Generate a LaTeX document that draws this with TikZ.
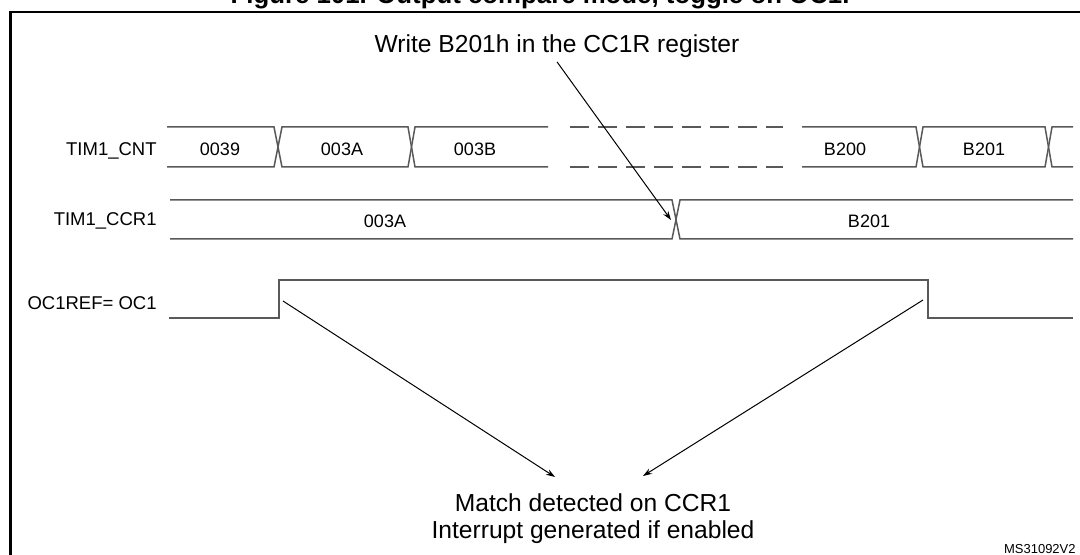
\documentclass[tikz,border=0pt]{standalone}
\usepackage{fontspec}
\setmainfont{Liberation Sans}
\usetikzlibrary{arrows.meta}

\tikzset{
  wave/.style={line width=0.75pt, color=black!65},
  gapline/.style={wave, dash pattern=on 9.3pt off 4.7pt},
  pointer/.style={line width=0.5pt, -{Stealth[length=4.5pt,width=3pt]}},
  signame/.style={font=\fontsize{9.25}{11}\selectfont, anchor=base east, inner sep=0pt},
  busval/.style={font=\fontsize{9}{11}\selectfont, anchor=base, inner sep=0pt},
  note/.style={font=\fontsize{12.3}{13.5}\selectfont, align=center, inner sep=1pt},
}

\begin{document}
\begin{tikzpicture}[x=0.5pt, y=-0.5pt]
	%%%%% FRAME %%%%%
	\useasboundingbox (0,0) rectangle (1080,555);
	\node[font=\bfseries\fontsize{12.9}{15}\selectfont, anchor=base] (caption) at (540,4) {Figure 101. Output compare mode, toggle on OC1.};
	\draw[line width=1.1pt] (10.5,12) rectangle (1100,570);
	
	%%%%% SIGNAL NAMES %%%%%
	\node[signame] (cnt) at (157,155.5) {TIM1\_CNT};
	\node[signame] (ccr) at (157,225.5) {TIM1\_CCR1};
	\node[signame] (oc) at (157,309.5) {OC1REF= OC1};
	
	%%%%% TIM1_CNT %%%%%
	\draw[wave] (167,127) -- (274,127) -- (282,167) -- (408,167) -- (415,127) -- (548,127);
	\draw[wave] (167,167) -- (274,167) -- (282,127) -- (408,127) -- (415,167) -- (548,167);
	\draw[gapline] (570,127) -- (783,127) (570,167) -- (783,167);
	\draw[wave] (802,127) -- (916,127) -- (923,167) -- (1045,167) -- (1052,127) -- (1073,127);
	\draw[wave] (802,167) -- (916,167) -- (923,127) -- (1045,127) -- (1052,167) -- (1073,167);
	
	\node[busval] (c39) at (220,156) {0039};
	\node[busval] (c3a) at (342,156) {003A};
	\node[busval] (c3b) at (475,156) {003B};
	\node[busval] (c200) at (845,156) {B200};
	\node[busval] (c201) at (984,156) {B201};
	
	%%%%% TIM1_CCR1 %%%%%
	\draw[wave] (170,200) -- (672,200) -- (680,239) -- (1073,239);
	\draw[wave] (170,239) -- (672,239) -- (680,200) -- (1073,200);
	\coordinate (ccrx) at (671,220);
	
	\node[busval] (r3a) at (385,228) {003A};
	\node[busval] (r201) at (869,228) {B201};
	
	%%%%% OC1REF %%%%%
	\draw[wave] (169,318) -- (279,318) -- (279,280) -- (928,280) -- (928,318) -- (1073,318);
	\coordinate (rise) at (283,301);
	\coordinate (fall) at (923,300);
	
	%%%%% NOTES %%%%%
	\node[note] (write) at (557,46) {Write B201h in the CC1R register};
	\draw[pointer] ([yshift=-1pt]write.south) -- (ccrx);
	
	\node[note] (match) at (593,519) {Match detected on CCR1\\Interrupt generated if enabled};
	\coordinate (m1) at (555,477);
	\coordinate (m2) at (643,476);
	\draw[pointer] (rise) -- (m1);
	\draw[pointer] (fall) -- (m2);
	
	\node[font=\fontsize{6.5}{8}\selectfont, anchor=base east, inner sep=0pt] (docid) at (1076,553) {MS31092V2};
\end{tikzpicture}
\end{document}
